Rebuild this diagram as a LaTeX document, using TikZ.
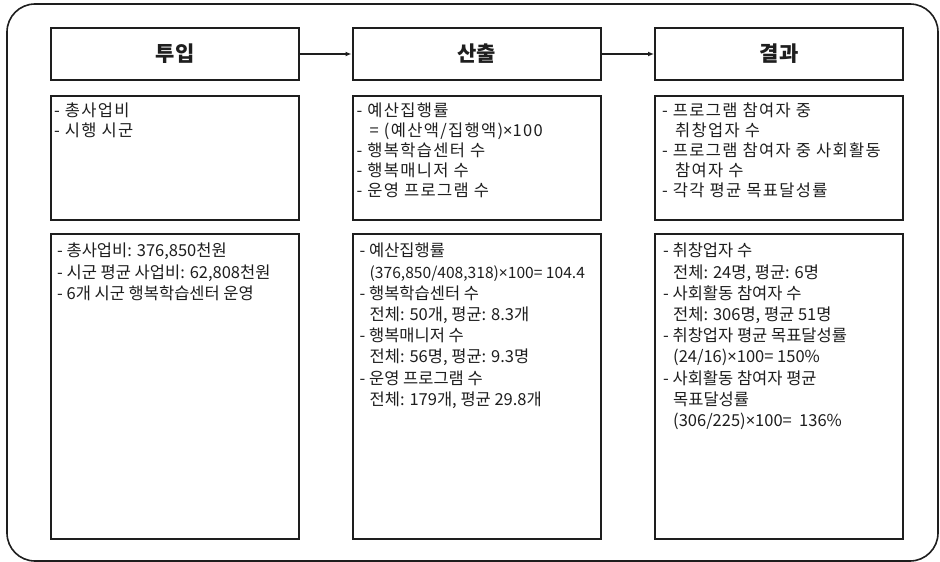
\documentclass[tikz,border=0pt]{standalone}
\usepackage{fontspec}
\setmainfont{Noto Sans CJK KR}
\newfontfamily\latinf{Noto Sans}
\newcommand\xmul{{\latinf ×}}
\newcommand\tightlines{\lineskiplimit=-20pt\relax}
\usetikzlibrary{arrows.meta}
\definecolor{ink}{HTML}{1E1E1E}
\begin{document}
\begin{tikzpicture}[x=1pt,y=-1pt,
  frame/.style={draw=ink,line width=1.6pt,rounded corners=28pt},
  headbox/.style={draw=ink,line width=2pt,minimum width=248pt,minimum height=52pt,inner sep=0pt,
    font=\fontsize{21}{24}\selectfont\bfseries,text=ink},
  midbox/.style={draw=ink,line width=2pt,minimum width=248pt,minimum height=124pt,inner sep=0pt},
  lowbox/.style={draw=ink,line width=2pt,minimum width=248pt,minimum height=305pt,inner sep=0pt},
  midtext/.style={anchor=north west,inner sep=0pt,align=left,text=ink,
    font=\fontsize{16.5}{20}\selectfont\addfontfeature{LetterSpace=8}\tightlines},
  lowtext/.style={anchor=north west,inner sep=0pt,align=left,text=ink,
    font=\fontsize{16.5}{21.2}\selectfont\tightlines},
  flow/.style={draw=ink,line width=1.3pt,-{Latex[length=6pt,width=5pt]}}
]
\useasboundingbox (0,0) rectangle (940,562);
\draw[frame] (7,4) rectangle (938,561);

\node[headbox] (h1) at (175,54) {투입};
\node[headbox] (h2) at (476.5,54) {산출};
\node[headbox] (h3) at (779,54) {결과};

\draw[flow] (h1.east) -- (h2.west);
\draw[flow] (h2.east) -- (h3.west);

\node[midbox] (m1) at (175,158) {};
\node[midbox] (m2) at (476.5,158) {};
\node[midbox] (m3) at (779,158) {};

\node[lowbox] (l1) at (175,386.5) {};
\node[lowbox] (l2) at (476.5,386.5) {};
\node[lowbox] (l3) at (779,386.5) {};

\node[midtext] (mt1) at ([shift={(4pt,-8pt)}]m1.north west)
  {- 총사업비\\- 시행 시군};
\node[midtext] (mt2) at ([shift={(5pt,-8pt)}]m2.north west)
  {- 예산집행률\\\hspace*{13pt}= (예산액/집행액)\xmul 100\\- 행복학습센터 수\\- 행복매니저 수\\- 운영 프로그램 수};
\node[midtext] (mt3) at ([shift={(8pt,-8pt)}]m3.north west)
  {- 프로그램 참여자 중\\\hspace*{13pt}취창업자 수\\- 프로그램 참여자 중 사회활동\\\hspace*{13pt}참여자 수\\- 각각 평균 목표달성률};

\node[lowtext] (lt1) at ([shift={(7pt,-10pt)}]l1.north west)
  {- 총사업비: 376,850천원\\- 시군 평균 사업비: 62,808천원\\- 6개 시군 행복학습센터 운영};
\node[lowtext] (lt2) at ([shift={(8pt,-10pt)}]l2.north west)
  {- 예산집행률\\\hspace*{10pt}{\fontsize{15.6}{21.2}\selectfont(376,850/408,318)\xmul 100= 104.4}\\- 행복학습센터 수\\\hspace*{10pt}전체: 50개, 평균: 8.3개\\- 행복매니저 수\\\hspace*{10pt}전체: 56명, 평균: 9.3명\\- 운영 프로그램 수\\\hspace*{10pt}전체: 179개, 평균 29.8개};
\node[lowtext] (lt3) at ([shift={(9pt,-10pt)}]l3.north west)
  {- 취창업자 수\\\hspace*{10pt}전체: 24명, 평균: 6명\\- 사회활동 참여자 수\\\hspace*{10pt}전체: 306명, 평균 51명\\- 취창업자 평균 목표달성률\\\hspace*{10pt}(24/16)\xmul 100= 150\%\\- 사회활동 참여자 평균\\\hspace*{10pt}목표달성률\\\hspace*{10pt}(306/225)\xmul 100=\ \ 136\%};
\end{tikzpicture}
\end{document}
